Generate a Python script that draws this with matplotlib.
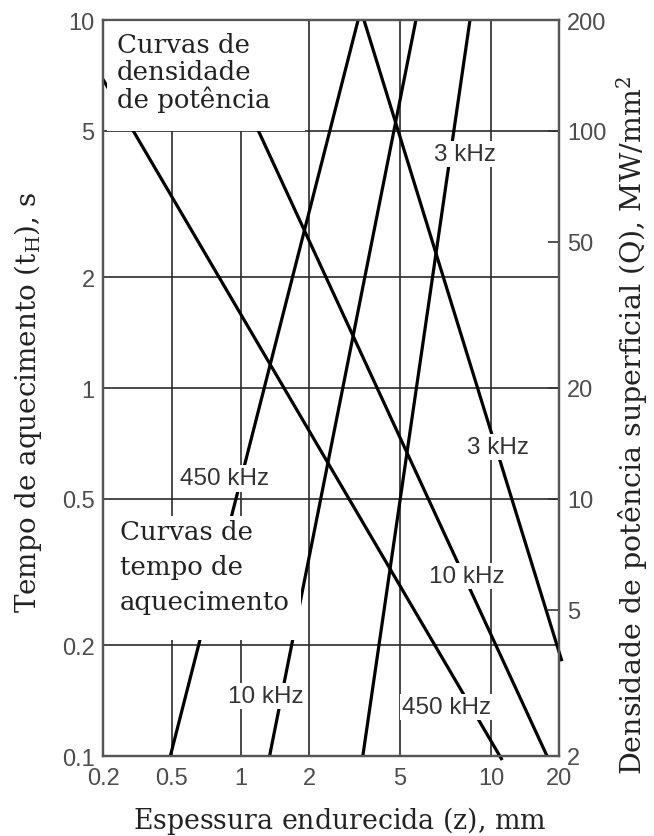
import numpy as np
import matplotlib.pyplot as plt
from matplotlib.patches import Rectangle
from matplotlib.ticker import FixedLocator, FixedFormatter, NullLocator

plt.rcParams['mathtext.fontset'] = 'dejavuserif'

# heating time curves: hardened depth z (mm) vs heating time t_H (s)
freq_time = ['450 kHz', '10 kHz', '3 kHz']
z_time = [[0.49, 3.28], [1.34, 5.65], [3.44, 8.52]]
t_time = [[0.1, 10], [0.1, 10], [0.1, 10]]

# power density curves: z (mm) vs Q (MW/mm2), right axis
freq_dens = ['450 kHz', '10 kHz', '3 kHz']
z_dens = [[0.2, 11.2], [0.714, 17.7], [3.48, 20.6]]
q_dens = [[138, 1.95], [200, 2], [200, 3.62]]

# where the frequency labels sit on the curves
lab_time_z = [0.85, 1.29, 8.2]
lab_time_t = [0.568, 0.1455, 4.33]
lab_dens_z = [7.15, 8.33, 10.74]
lab_dens_q = [2.72, 6.16, 13.8]

xticks = [0.2, 0.5, 1, 2, 5, 10, 20]
xlabels = ['0.2', '0.5', '1', '2', '5', '10', '20']
yticks = [0.1, 0.2, 0.5, 1, 2, 5, 10]
ylabels = ['0.1', '0.2', '0.5', '1', '2', '5', '10']
qticks = [2, 5, 10, 20, 50, 100, 200]
qlabels = ['2', '5', '10', '20', '50', '100', '200']

# the x axis of the original is not a clean log scale: grid spacing per tick
kl = np.log10(xticks)
kp = np.array([0, 0.151, 0.302, 0.452, 0.651, 0.851, 1.0])
s0 = (kp[1] - kp[0]) / (kl[1] - kl[0])
s1 = (kp[-1] - kp[-2]) / (kl[-1] - kl[-2])


def fwd(x):
    lx = np.log10(np.clip(np.asarray(x, dtype=float), 1e-9, None))
    p = np.interp(lx, kl, kp)
    p = np.where(lx < kl[0], kp[0] + (lx - kl[0]) * s0, p)
    p = np.where(lx > kl[-1], kp[-1] + (lx - kl[-1]) * s1, p)
    return p


def inv(p):
    p = np.asarray(p, dtype=float)
    lx = np.interp(p, kp, kl)
    lx = np.where(p < kp[0], kl[0] + (p - kp[0]) / s0, lx)
    lx = np.where(p > kp[-1], kl[-1] + (p - kp[-1]) / s1, lx)
    return 10 ** lx


serif = 'DejaVu Serif'
sans = 'Liberation Sans'

fig = plt.figure(figsize=(6.54, 8.37), dpi=100)
ax = fig.add_axes([103 / 654, 1 - 757 / 837, 456 / 654, 736 / 837])
ax2 = ax.twinx()

ax.set_xscale('function', functions=(fwd, inv))
ax.set_xlim(0.2, 20)
ax.set_yscale('log')
ax.set_ylim(0.1, 10)
ax2.set_yscale('log')
ax2.set_ylim(2, 200)

ax.xaxis.set_major_locator(FixedLocator(xticks))
ax.xaxis.set_major_formatter(FixedFormatter(xlabels))
ax.xaxis.set_minor_locator(NullLocator())
ax.yaxis.set_major_locator(FixedLocator(yticks))
ax.yaxis.set_major_formatter(FixedFormatter(ylabels))
ax.yaxis.set_minor_locator(NullLocator())
ax2.yaxis.set_major_locator(FixedLocator(qticks))
ax2.yaxis.set_major_formatter(FixedFormatter(qlabels))
ax2.yaxis.set_minor_locator(NullLocator())

ax.grid(True, which='major', color='#2a2a2a', lw=1.2)
ax.tick_params(axis='both', length=0, labelsize=17, labelcolor='#4d4d4d')
ax.tick_params(axis='x', pad=8)
ax.tick_params(axis='y', pad=6)
ax2.tick_params(axis='y', direction='in', length=8, width=1.2, color='#333333',
                labelsize=17, labelcolor='#4d4d4d', pad=6)
for lab in ax.get_xticklabels() + ax.get_yticklabels() + ax2.get_yticklabels():
    lab.set_family(sans)
for a in (ax, ax2):
    for sp in a.spines.values():
        sp.set_color('#555555')
        sp.set_linewidth(1.6)

# curves
for z, t in zip(z_time, t_time):
    ax.plot(z, t, color='black', lw=2.3, solid_capstyle='butt')
for z, q in zip(z_dens, q_dens):
    ax2.plot(z, q, color='black', lw=2.3, solid_capstyle='butt', clip_on=False)

# white panels behind the two notes
ax2.add_patch(Rectangle((0.009, 0.849), 0.434, 0.151, transform=ax2.transAxes,
                        facecolor='white', edgecolor='none', zorder=2.1))
ax2.add_patch(Rectangle((0.009, 0.158), 0.425, 0.168, transform=ax2.transAxes,
                        facecolor='white', edgecolor='none', zorder=2.1))
ax2.text(0.031, 0.984, 'Curvas de\ndensidade\nde potência', transform=ax2.transAxes,
         ha='left', va='top', family=serif, fontsize=18.7, color='#222222',
         linespacing=1.1, zorder=4)
ax2.text(0.037, 0.322, 'Curvas de\ntempo de\naquecimento', transform=ax2.transAxes,
         ha='left', va='top', family=serif, fontsize=18.7, color='#222222',
         linespacing=1.5, zorder=4)

box = dict(facecolor='white', edgecolor='none', pad=1.5)
for s, z, t in zip(freq_time, lab_time_z, lab_time_t):
    ax2.text(z, t, s, transform=ax.transData, ha='center', va='center',
             family=sans, fontsize=17.5, color='#333333', bbox=box, zorder=5)
for s, z, q in zip(freq_dens, lab_dens_z, lab_dens_q):
    ax2.text(z, q, s, ha='center', va='center',
             family=sans, fontsize=17.5, color='#333333', bbox=box, zorder=5)

ax.set_xlabel('Espessura endurecida $(\\mathrm{z})$, mm', family=serif,
              fontsize=19.3, color='#222222', labelpad=11)
ax.xaxis.set_label_coords(0.518, -0.065)
ax.set_ylabel('Tempo de aquecimento $(\\mathrm{t_H})$, s', family=serif,
              fontsize=20, color='#222222')
ax.yaxis.set_label_coords(-0.13, 0.482)
ax2.set_ylabel('Densidade de potência superficial $(\\mathrm{Q})$, $\\mathrm{MW/mm^2}$',
               family=serif, fontsize=20.5, color='#222222')
ax2.yaxis.set_label_coords(1.122, 0.451)

fig.savefig('out.png', dpi=100)
